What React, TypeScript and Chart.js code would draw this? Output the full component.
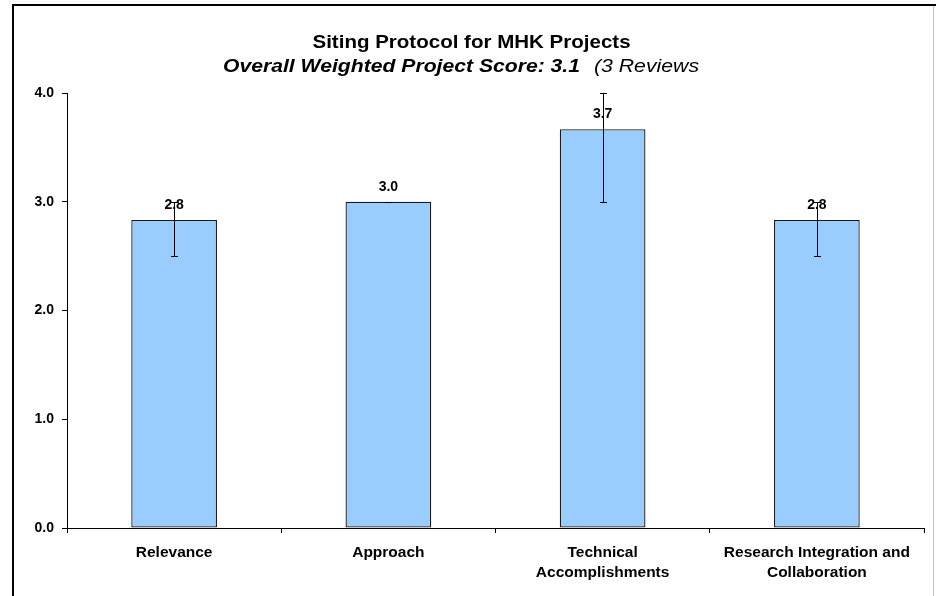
import React, { useEffect, useRef } from 'react';
import { Chart, registerables } from 'chart.js';

Chart.register(...registerables);

const categories: (string | string[])[] = [
  'Relevance',
  'Approach',
  ['Technical', 'Accomplishments'],
  ['Research Integration and', 'Collaboration'],
];
const scores = [2.833, 3.0, 3.667, 2.833];
const errLow = [2.5, 3.0, 3.0, 2.5];
const errHigh = [3.0, 3.0, 4.0, 3.0];
const yTicks = [0, 1, 2, 3, 4];
const titleText = 'Siting Protocol for MHK Projects';
const subtitleBold = 'Overall Weighted Project Score: 3.1';
const subtitleNormal = '(3 Reviews';

const FONT = '"Liberation Sans", Arial, sans-serif';

const framePlugin = {
  id: 'frame',
  beforeDraw(chart: any) {
    const ctx = chart.ctx;
    ctx.save();
    ctx.fillStyle = '#ffffff';
    ctx.fillRect(0, 0, chart.width, chart.height);
    ctx.fillStyle = '#000000';
    ctx.fillRect(12, 4, 2, chart.height - 4);
    ctx.fillRect(12, 4, 924, 2);
    ctx.fillStyle = '#c0c0c0';
    ctx.fillRect(933, 6, 1, chart.height - 6);
    ctx.restore();
  },
};

const titlePlugin = {
  id: 'titles',
  afterDraw(chart: any) {
    const ctx = chart.ctx;
    ctx.save();
    ctx.fillStyle = '#000';
    ctx.textBaseline = 'alphabetic';
    ctx.textAlign = 'left';
    ctx.font = `bold 18px ${FONT}`;
    const sx = 1.14;
    const w1 = ctx.measureText(titleText).width * sx;
    ctx.save();
    ctx.translate(471.5 - w1 / 2, 48);
    ctx.scale(sx, 1);
    ctx.fillText(titleText, 0, 0);
    ctx.restore();

    ctx.font = `italic bold 18px ${FONT}`;
    const wb = ctx.measureText(subtitleBold).width;
    const sxb = (580 - 223) / wb;
    ctx.save();
    ctx.translate(223, 71.5);
    ctx.scale(sxb, 1);
    ctx.fillText(subtitleBold, 0, 0);
    ctx.restore();

    ctx.font = `italic 18px ${FONT}`;
    const wn = ctx.measureText(subtitleNormal).width;
    const sxn = (699 - 594) / wn;
    ctx.save();
    ctx.translate(594, 71.5);
    ctx.scale(sxn, 1);
    ctx.fillText(subtitleNormal, 0, 0);
    ctx.restore();
    ctx.restore();
  },
};

const barExtrasPlugin = {
  id: 'barExtras',
  afterDatasetsDraw(chart: any) {
    const ctx = chart.ctx;
    const yScale = chart.scales.y;
    const meta = chart.getDatasetMeta(0);
    ctx.save();
    meta.data.forEach((bar: any, i: number) => {
      ctx.fillStyle = '#000';
      ctx.font = `bold 14px ${FONT}`;
      ctx.textAlign = 'center';
      ctx.textBaseline = 'middle';
      ctx.fillText(scores[i].toFixed(1), bar.x, bar.y - 15);
    });
    meta.data.forEach((bar: any, i: number) => {
      const px = Math.round(bar.x) + 0.5;
      const yl = Math.round(yScale.getPixelForValue(errLow[i])) + 0.5;
      const yh = Math.round(yScale.getPixelForValue(errHigh[i])) + 0.5;
      ctx.strokeStyle = '#000';
      ctx.lineWidth = 1;
      ctx.beginPath();
      ctx.moveTo(px, yh);
      ctx.lineTo(px, yl);
      ctx.moveTo(px - 3.5, yh);
      ctx.lineTo(px + 3.5, yh);
      ctx.moveTo(px - 3.5, yl);
      ctx.lineTo(px + 3.5, yl);
      ctx.stroke();
    });
    ctx.restore();
  },
};

export default function App() {
  const ref = useRef<HTMLCanvasElement | null>(null);

  useEffect(() => {
    if (!ref.current) return;
    Chart.defaults.font.family = FONT;
    const chart = new Chart(ref.current, {
      type: 'bar',
      data: {
        labels: categories as any,
        datasets: [
          {
            data: scores,
            backgroundColor: '#99CCFF',
            borderColor: '#1a1a1a',
            borderWidth: 1.3,
            borderSkipped: false,
            categoryPercentage: 1,
            barPercentage: 0.4,
          },
        ],
      },
      options: {
        responsive: false,
        animation: false,
        events: [],
        layout: { padding: { top: 93, right: 16, left: 0, bottom: 0 } },
        plugins: {
          legend: { display: false },
          title: { display: false },
          tooltip: { enabled: false },
        },
        scales: {
          x: {
            ticks: {
              color: '#000',
              font: { size: 15.5, weight: 'bold', lineHeight: 1.29 },
              padding: 10,
              maxRotation: 0,
              minRotation: 0,
              autoSkip: false,
            },
            grid: {
              offset: true,
              drawOnChartArea: false,
              drawTicks: true,
              tickLength: 5,
              color: '#000',
            },
            border: { color: '#000', width: 1 },
            afterFit: (s: any) => {
              s.height = 68;
            },
          },
          y: {
            min: 0,
            max: 4,
            afterBuildTicks: (s: any) => {
              s.ticks = yTicks.map((v) => ({ value: v }));
            },
            ticks: {
              color: '#000',
              font: { size: 14, weight: 'bold' },
              padding: 8,
              callback: (v: any) => Number(v).toFixed(1),
            },
            grid: {
              drawOnChartArea: false,
              drawTicks: true,
              tickLength: 5,
              color: '#000',
            },
            border: { color: '#000', width: 1 },
            afterFit: (s: any) => {
              s.width = 67;
            },
          },
        },
      } as any,
      plugins: [framePlugin, titlePlugin, barExtrasPlugin],
    });
    return () => chart.destroy();
  }, []);

  return (
    <div style={{ position: 'fixed', left: 0, top: 0, width: 940, height: 596 }}>
      <canvas ref={ref} width={940} height={596} />
    </div>
  );
}
